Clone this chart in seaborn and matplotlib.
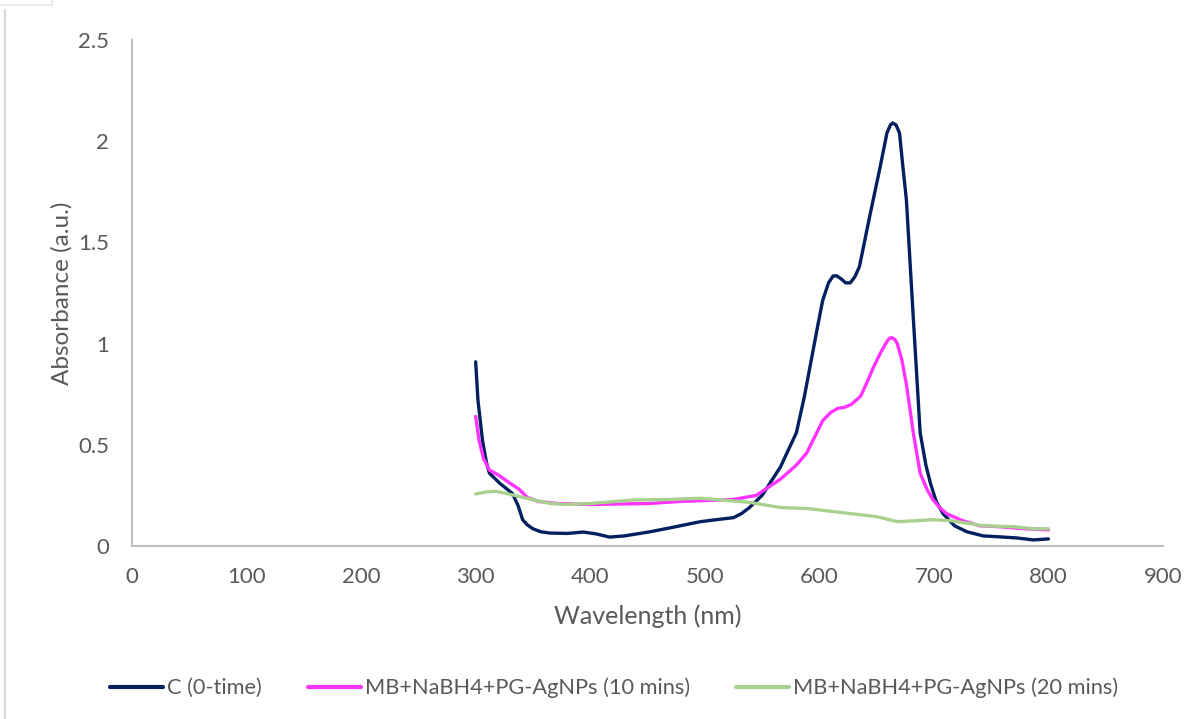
import numpy as np
import pandas as pd
import matplotlib
matplotlib.use("Agg")
import matplotlib.pyplot as plt
import seaborn as sns
from matplotlib.lines import Line2D

# ---- data ----
series_names = ["C (0-time)", "MB+NaBH4+PG-AgNPs (10 mins)", "MB+NaBH4+PG-AgNPs (20 mins)"]

wl_c = [300, 302, 306, 309.5, 312, 321, 332, 337, 341, 345, 350, 357, 365, 380, 394, 405, 417, 430,
        452, 470, 496, 510, 525, 532, 539, 550, 566, 580, 587, 594, 599, 603, 608, 612, 615, 619, 623, 627,
        631, 635, 644, 653, 659, 662, 664, 667, 670, 673, 676, 682, 688, 693, 697, 702, 708, 718, 729, 743,
        758, 772, 787, 800]
abs_c = [0.91, 0.72, 0.52, 0.41, 0.36, 0.31, 0.26, 0.20, 0.13, 0.105, 0.085, 0.07, 0.064, 0.062, 0.069, 0.06, 0.044, 0.05,
         0.07, 0.09, 0.12, 0.13, 0.14, 0.16, 0.19, 0.25, 0.39, 0.56, 0.74, 0.95, 1.10, 1.215, 1.30, 1.334, 1.335, 1.32, 1.30, 1.30,
         1.33, 1.38, 1.63, 1.87, 2.04, 2.08, 2.09, 2.08, 2.04, 1.87, 1.71, 1.13, 0.56, 0.40, 0.31, 0.22, 0.16, 0.10, 0.07, 0.05,
         0.045, 0.04, 0.03, 0.035]

wl_m = [300, 303, 307, 312, 320, 330, 338, 345, 355, 371, 400, 452, 478, 525, 545,
        566, 580, 589, 596, 603, 610, 616, 622, 628, 632, 636, 641, 647, 653, 659, 661, 663, 666, 668, 672,
        676, 682, 688, 694, 699, 705, 711, 725, 740, 758, 780, 800]
abs_m = [0.64, 0.52, 0.43, 0.375, 0.35, 0.31, 0.28, 0.24, 0.22, 0.21, 0.205, 0.21, 0.22, 0.23, 0.25,
         0.33, 0.40, 0.46, 0.54, 0.62, 0.66, 0.68, 0.685, 0.70, 0.72, 0.74, 0.80, 0.88, 0.95, 1.01, 1.025, 1.03, 1.02, 1.0, 0.92,
         0.80, 0.56, 0.36, 0.28, 0.23, 0.19, 0.16, 0.125, 0.10, 0.095, 0.085, 0.08]

wl_g = [300, 310, 318, 330, 349, 365, 380, 400, 437, 470, 496, 520, 540, 566, 590,
        620, 650, 668, 685, 699, 715, 743, 770, 787, 800]
abs_g = [0.257, 0.268, 0.27, 0.255, 0.23, 0.21, 0.205, 0.21, 0.227, 0.23, 0.236, 0.225, 0.215, 0.19, 0.185,
         0.165, 0.145, 0.12, 0.125, 0.13, 0.125, 0.10, 0.095, 0.085, 0.085]

colors = ["#002060", "#FF33FF", "#A9D18E"]

x_ticks = [0, 100, 200, 300, 400, 500, 600, 700, 800, 900]
y_ticks = [0, 0.5, 1, 1.5, 2, 2.5]
y_tick_labels = ["0", "0.5", "1", "1.5", "2", "2.5"]

df = pd.concat([
    pd.DataFrame({"Wavelength": wl_c, "Absorbance": abs_c, "Series": series_names[0]}),
    pd.DataFrame({"Wavelength": wl_m, "Absorbance": abs_m, "Series": series_names[1]}),
    pd.DataFrame({"Wavelength": wl_g, "Absorbance": abs_g, "Series": series_names[2]}),
], ignore_index=True)

sns.set_theme(style="white")
plt.rcParams["font.family"] = ["Lato", "DejaVu Sans"]

fig = plt.figure(figsize=(11.96, 7.19), dpi=100)
ax = fig.add_axes([132/1196, 1-546/719, (1163-132)/1196, (546-40)/719])

sns.lineplot(data=df, x="Wavelength", y="Absorbance", hue="Series",
             hue_order=series_names, palette=colors, estimator=None,
             linewidth=2.4, ax=ax, legend=False)

ax.set_xlim(0, 900)
ax.set_ylim(0, 2.5)
ax.set_xticks(x_ticks)
ax.set_xticklabels([str(t) for t in x_ticks])
ax.set_yticks(y_ticks)
ax.set_yticklabels(y_tick_labels)
ax.tick_params(axis="both", length=0, labelsize=16, labelcolor="#595959")
ax.tick_params(axis="y", pad=16.5)
ax.tick_params(axis="x", pad=15)

for s in ["top", "right"]:
    ax.spines[s].set_visible(False)
for s in ["left", "bottom"]:
    ax.spines[s].set_color("#BFBFBF")
    ax.spines[s].set_linewidth(1.5)

ax.set_xlabel("Wavelength (nm)", fontsize=18, color="#595959")
ax.set_ylabel("Absorbance (a.u.)", fontsize=17.5, color="#595959")
ax.xaxis.set_label_coords(0.5, (546-604)/506)
ax.yaxis.set_label_coords((73-132)/1031, 0.5)

handles = [Line2D([0], [0], color=c, lw=3) for c in colors]
fig.legend(handles, series_names, loc="center", bbox_to_anchor=(614/1196, 1-688/719),
           ncol=3, frameon=False, fontsize=15.7, handlelength=2.45, handletextpad=0.18,
           columnspacing=2.1, labelcolor="#595959", borderpad=0)

# outer chart border remnants
fig.add_artist(Line2D([5/1196, 5/1196], [0, 1-10/719], transform=fig.transFigure,
                      color="#D9D9D9", lw=1.5))
fig.add_artist(Line2D([0, 52/1196], [1-5/719, 1-5/719], transform=fig.transFigure,
                      color="#E6E6E6", lw=1.2))
fig.add_artist(Line2D([52/1196, 52/1196], [1-5/719, 1], transform=fig.transFigure,
                      color="#E6E6E6", lw=1.2))

fig.savefig("out.png", dpi=100)
